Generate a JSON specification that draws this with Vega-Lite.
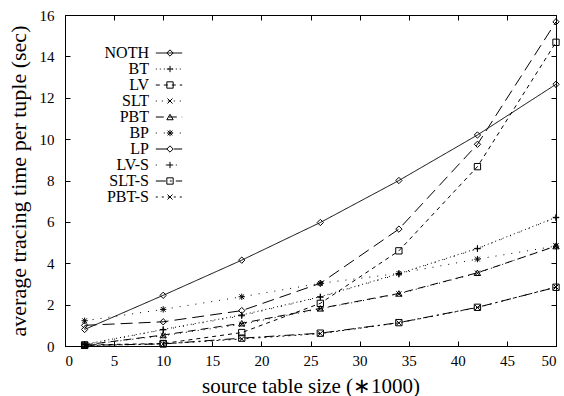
{
  "$schema": "https://vega.github.io/schema/vega-lite/v6.json",
  "width": 491,
  "height": 331,
  "autosize": "none",
  "padding": {"left": 65, "top": 15, "right": 8, "bottom": 50},
  "background": "white",
  "config": {
    "view": {"stroke": "black", "strokeWidth": 1},
    "font": "Liberation Serif",
    "axis": {"grid": false, "domainColor": "black", "tickColor": "black", "labelColor": "black", "titleColor": "black", "labelFont": "Liberation Serif", "titleFont": "Liberation Serif", "titleFontWeight": "normal", "labelFontSize": 15, "titleFontSize": 21, "tickSize": -5, "domainWidth": 1, "tickWidth": 1},
    "legend": {"labelFont": "Liberation Serif", "labelColor": "black"}
  },
  "data": {"values": [
    {"series": "NOTH", "x": 2, "y": 0.8}, {"series": "NOTH", "x": 10, "y": 2.45}, {"series": "NOTH", "x": 18, "y": 4.15}, {"series": "NOTH", "x": 26, "y": 5.97}, {"series": "NOTH", "x": 34, "y": 8.0}, {"series": "NOTH", "x": 42, "y": 10.2}, {"series": "NOTH", "x": 50, "y": 12.65},
    {"series": "BT", "x": 2, "y": 0.08}, {"series": "BT", "x": 10, "y": 0.8}, {"series": "BT", "x": 18, "y": 1.5}, {"series": "BT", "x": 26, "y": 2.38}, {"series": "BT", "x": 34, "y": 3.5}, {"series": "BT", "x": 42, "y": 4.72}, {"series": "BT", "x": 50, "y": 6.22},
    {"series": "LV", "x": 2, "y": 0.05}, {"series": "LV", "x": 10, "y": 0.12}, {"series": "LV", "x": 18, "y": 0.65}, {"series": "LV", "x": 26, "y": 2.06}, {"series": "LV", "x": 34, "y": 4.6}, {"series": "LV", "x": 42, "y": 8.67}, {"series": "LV", "x": 50, "y": 14.68},
    {"series": "SLT", "x": 2, "y": 0.05}, {"series": "SLT", "x": 10, "y": 0.5}, {"series": "SLT", "x": 18, "y": 1.05}, {"series": "SLT", "x": 26, "y": 1.8}, {"series": "SLT", "x": 34, "y": 2.52}, {"series": "SLT", "x": 42, "y": 3.52}, {"series": "SLT", "x": 50, "y": 4.85},
    {"series": "PBT", "x": 2, "y": 0.05}, {"series": "PBT", "x": 10, "y": 0.53}, {"series": "PBT", "x": 18, "y": 1.1}, {"series": "PBT", "x": 26, "y": 1.82}, {"series": "PBT", "x": 34, "y": 2.54}, {"series": "PBT", "x": 42, "y": 3.54}, {"series": "PBT", "x": 50, "y": 4.83},
    {"series": "BP", "x": 2, "y": 1.22}, {"series": "BP", "x": 10, "y": 1.77}, {"series": "BP", "x": 18, "y": 2.38}, {"series": "BP", "x": 26, "y": 3.03}, {"series": "BP", "x": 34, "y": 3.51}, {"series": "BP", "x": 42, "y": 4.2}, {"series": "BP", "x": 50, "y": 4.83},
    {"series": "LP", "x": 2, "y": 1.0}, {"series": "LP", "x": 10, "y": 1.17}, {"series": "LP", "x": 18, "y": 1.71}, {"series": "LP", "x": 26, "y": 3.03}, {"series": "LP", "x": 34, "y": 5.65}, {"series": "LP", "x": 42, "y": 9.75}, {"series": "LP", "x": 50, "y": 15.67},
    {"series": "LV-S", "x": 2, "y": 0.06}, {"series": "LV-S", "x": 10, "y": 0.78}, {"series": "LV-S", "x": 18, "y": 1.46}, {"series": "LV-S", "x": 26, "y": 2.36}, {"series": "LV-S", "x": 34, "y": 3.47}, {"series": "LV-S", "x": 42, "y": 4.7}, {"series": "LV-S", "x": 50, "y": 6.2},
    {"series": "SLT-S", "x": 2, "y": 0.03}, {"series": "SLT-S", "x": 10, "y": 0.1}, {"series": "SLT-S", "x": 18, "y": 0.38}, {"series": "SLT-S", "x": 26, "y": 0.62}, {"series": "SLT-S", "x": 34, "y": 1.13}, {"series": "SLT-S", "x": 42, "y": 1.87}, {"series": "SLT-S", "x": 50, "y": 2.84},
    {"series": "PBT-S", "x": 2, "y": 0.02}, {"series": "PBT-S", "x": 10, "y": 0.1}, {"series": "PBT-S", "x": 18, "y": 0.34}, {"series": "PBT-S", "x": 26, "y": 0.6}, {"series": "PBT-S", "x": 34, "y": 1.12}, {"series": "PBT-S", "x": 42, "y": 1.86}, {"series": "PBT-S", "x": 50, "y": 2.85}
  ]},
  "layer": [
    {
      "mark": {"type": "line", "color": "black", "strokeWidth": 1},
      "encoding": {
        "x": {"field": "x", "type": "quantitative", "scale": {"domain": [0, 50], "nice": false},
              "axis": {"orient": "bottom", "values": [0, 5, 10, 15, 20, 25, 30, 35, 40, 45, 50], "title": "source table size (∗1000)", "labelPadding": 12, "titlePadding": 7}},
        "y": {"field": "y", "type": "quantitative", "scale": {"domain": [0, 16], "nice": false},
              "axis": {"orient": "left", "values": [0, 2, 4, 6, 8, 10, 12, 14, 16], "title": "average tracing time per tuple (sec)", "titleFontSize": 22, "labelPadding": 16, "titlePadding": 9}},
        "strokeDash": {"field": "series", "type": "nominal",
          "scale": {"domain": ["NOTH", "BT", "LV", "SLT", "PBT", "BP", "LP", "LV-S", "SLT-S", "PBT-S"],
                    "range": [[1, 0], [1, 3], [4, 4], [1, 5], [8, 5], [1, 7], [12, 6], [1, 9], [10, 4, 2, 4], [2, 4]]},
          "legend": {"orient": "top-left", "offset": 30, "title": null, "padding": 0, "symbolType": "M-3.3,0H3.3", "symbolSize": 64, "symbolOffset": 66, "symbolStrokeWidth": 1, "symbolStrokeColor": "black", "labelOpacity": 0, "labelFontSize": 16, "rowPadding": 0}},
        "order": {"field": "x", "type": "quantitative"}
      }
    },
    {
      "mark": {"type": "point", "color": "black", "filled": false, "strokeWidth": 1, "size": 40, "opacity": 1},
      "encoding": {
        "x": {"field": "x", "type": "quantitative", "axis": {"orient": "top", "values": [0, 5, 10, 15, 20, 25, 30, 35, 40, 45, 50], "labels": false, "title": null, "domain": false}},
        "y": {"field": "y", "type": "quantitative", "axis": {"orient": "right", "values": [0, 2, 4, 6, 8, 10, 12, 14, 16], "labels": false, "title": null, "domain": false}},
        "shape": {"field": "series", "type": "nominal",
          "scale": {"domain": ["NOTH", "BT", "LV", "SLT", "PBT", "BP", "LP", "LV-S", "SLT-S", "PBT-S"],
                    "range": ["diamond", "M-1,0H1M0,-1V1", "square", "M-0.8,-0.8L0.8,0.8M-0.8,0.8L0.8,-0.8", "triangle-up", "M-1,0H1M0,-1V1M-0.75,-0.75L0.75,0.75M-0.75,0.75L0.75,-0.75", "diamond", "M-1,0H1M0,-1V1", "square", "M-0.8,-0.8L0.8,0.8M-0.8,0.8L0.8,-0.8"]},
          "legend": {"orient": "none", "legendX": 30, "legendY": 30, "title": null, "padding": 0, "labelAlign": "right", "labelOffset": -29, "symbolOffset": 67, "labelFontSize": 16, "rowPadding": 0, "symbolSize": 40, "symbolStrokeWidth": 1, "symbolStrokeColor": "black"}}
      }
    }
  ],
  "resolve": {"axis": {"x": "independent", "y": "independent"}}
}
